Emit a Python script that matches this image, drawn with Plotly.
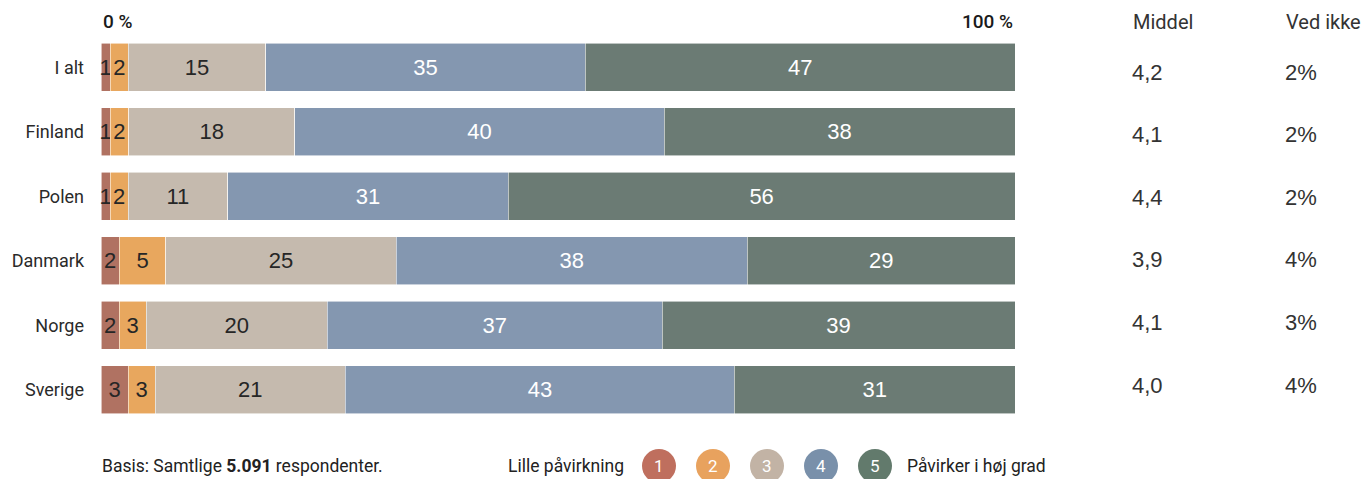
import plotly.graph_objects as go

# Survey results: share of answers per score (1 = little impact, 5 = high impact)
countries = ["I alt", "Finland", "Polen", "Danmark", "Norge", "Sverige"]
score_1 = [1, 1, 1, 2, 2, 3]
score_2 = [2, 2, 2, 5, 3, 3]
score_3 = [15, 18, 11, 25, 20, 21]
score_4 = [35, 40, 31, 38, 37, 43]
score_5 = [47, 38, 56, 29, 39, 31]
middel = ["4,2", "4,1", "4,4", "3,9", "4,1", "4,0"]
ved_ikke = ["2%", "2%", "2%", "4%", "3%", "4%"]
scale_ticks = [0, 100]
scale_tick_labels = ["0 %", "100 %"]
legend_scores = ["1", "2", "3", "4", "5"]

colors = ["#b07262", "#e8a75e", "#c5baae", "#8497b0", "#6b7b74"]
legend_colors = ["#bf6f5e", "#e8a25e", "#c2b3a5", "#7990aa", "#627a6c"]
text_colors = ["#262626", "#262626", "#262626", "#ffffff", "#ffffff"]

W, H = 1366, 479
M_L, M_R, M_T, M_B = 101, 351, 35, 57
PW, PH = W - M_L - M_R, H - M_T - M_B


def px_x(x):
    return (x - M_L) / PW


def px_y(y):
    return (H - M_B - y) / PH


fig = go.Figure()
for vals, col, tcol in zip([score_1, score_2, score_3, score_4, score_5], colors, text_colors):
    fig.add_trace(go.Bar(
        y=countries, x=vals, orientation="h",
        marker=dict(color=col, line=dict(color="rgba(255,255,255,0.7)", width=0.8)),
        text=[str(v) for v in vals],
        textposition="inside", insidetextanchor="middle", textangle=0,
        constraintext="none",
        textfont=dict(family="Liberation Sans, Arial", size=22, color=tcol),
        cliponaxis=False, showlegend=False,
    ))

# hidden axis for the side columns, rows spaced slightly tighter than the bars
rows = list(range(len(countries)))
fig.add_trace(go.Scatter(x=[None], y=[None], yaxis="y2", showlegend=False))

label_font = "Roboto"
annotations = []
for xv, lab, anc in zip(scale_ticks, scale_tick_labels, ["left", "right"]):
    annotations.append(dict(x=xv, y=px_y(21), xref="x", yref="paper", text=lab,
                            showarrow=False, xanchor=anc, yanchor="middle",
                            font=dict(family=label_font, size=19, color="#1a1a1a", weight=500)))

annotations.append(dict(x=px_x(1131), y=px_y(22), xref="paper", yref="paper", text="Middel",
                        showarrow=False, xanchor="left", yanchor="middle",
                        font=dict(family=label_font, size=20, color="#333333")))
annotations.append(dict(x=px_x(1284), y=px_y(22), xref="paper", yref="paper", text="Ved ikke",
                        showarrow=False, xanchor="left", yanchor="middle",
                        font=dict(family=label_font, size=20, color="#333333")))
for r, m, v in zip(rows, middel, ved_ikke):
    annotations.append(dict(x=px_x(1130), y=r, xref="paper", yref="y2", text=m,
                            showarrow=False, xanchor="left", yanchor="middle",
                            font=dict(family="Liberation Sans, Arial", size=22, color="#333333")))
    annotations.append(dict(x=px_x(1283), y=r, xref="paper", yref="y2", text=v,
                            showarrow=False, xanchor="left", yanchor="middle",
                            font=dict(family="Liberation Sans, Arial", size=22, color="#333333")))

foot_y = px_y(466)
foot_font = dict(family=label_font, size=17.5, color="#222222")
annotations.append(dict(x=px_x(100), y=foot_y, xref="paper", yref="paper",
                        text="Basis: Samtlige <b>5.091</b> respondenter.",
                        showarrow=False, xanchor="left", yanchor="middle", font=foot_font))
annotations.append(dict(x=px_x(626), y=foot_y, xref="paper", yref="paper",
                        text="Lille påvirkning", showarrow=False, xanchor="right", yanchor="middle",
                        font=foot_font))
annotations.append(dict(x=px_x(905), y=foot_y, xref="paper", yref="paper",
                        text="Påvirker i høj grad", showarrow=False, xanchor="left", yanchor="middle",
                        font=foot_font))

shapes = []
for i, (lab, col) in enumerate(zip(legend_scores, legend_colors)):
    cx = px_x(659 + 54 * i)
    shapes.append(dict(type="circle", xref="paper", yref="paper",
                       xsizemode="pixel", ysizemode="pixel", xanchor=cx, yanchor=foot_y,
                       x0=-17, x1=17, y0=-17, y1=17,
                       fillcolor=col, line=dict(width=0)))
    annotations.append(dict(x=cx, y=foot_y, xref="paper", yref="paper", text=lab,
                            showarrow=False, xanchor="center", yanchor="middle",
                            font=dict(family=label_font, size=17, color="#ffffff")))

fig.update_layout(
    width=W, height=H,
    margin=dict(l=M_L, r=M_R, t=M_T, b=M_B),
    barmode="stack", barnorm="percent", bargap=0.257,
    plot_bgcolor="white", paper_bgcolor="white",
    xaxis=dict(range=[0, 100], showgrid=False, zeroline=False, showticklabels=False,
               fixedrange=True),
    yaxis=dict(autorange="reversed", showgrid=False, zeroline=False, ticks="",
               ticklabelstandoff=16,
               tickfont=dict(family=label_font, size=18, color="#2a2a2a")),
    yaxis2=dict(overlaying="y", range=[5.591, -0.591], visible=False),
    annotations=annotations, shapes=shapes,
)

fig.write_html("out.html")
